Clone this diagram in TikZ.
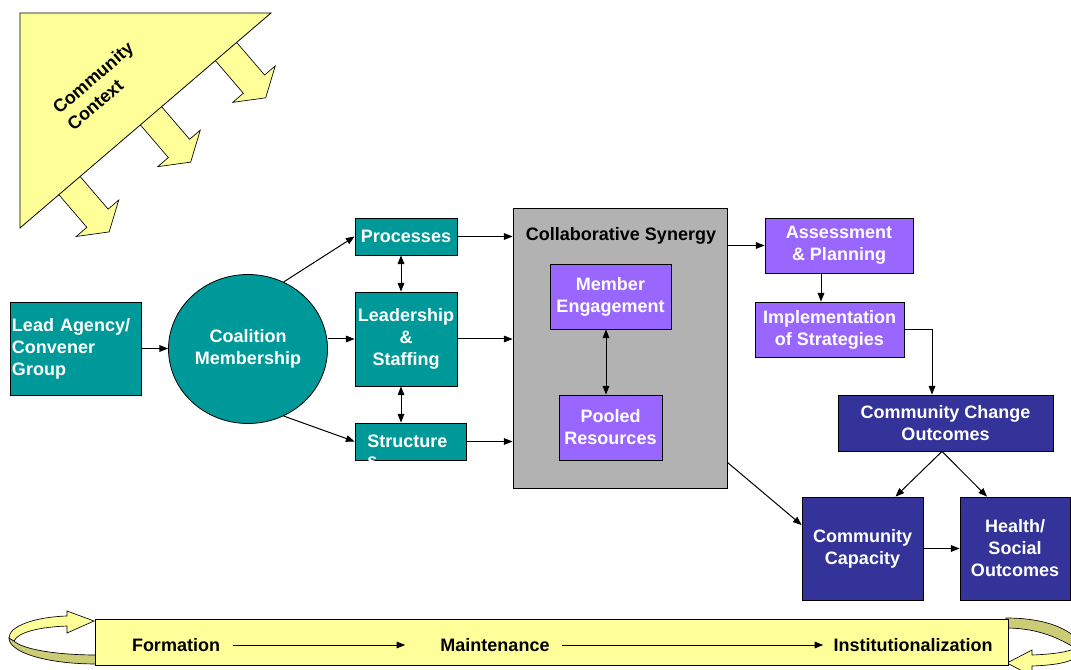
\documentclass[tikz,border=0pt]{standalone}
\usepackage{fontspec}
\setmainfont{Liberation Sans}
\usetikzlibrary{shapes.geometric,arrows.meta,calc}
\definecolor{tealc}{HTML}{009999}
\definecolor{purplec}{HTML}{9966FF}
\definecolor{navyc}{HTML}{333399}
\definecolor{grayc}{HTML}{B2B2B2}
\definecolor{ylwc}{HTML}{FFFF99}
\definecolor{olivec}{HTML}{CCCC77}
\begin{document}
\begin{tikzpicture}[x=0.75pt,y=-0.75pt,
  font=\fontsize{13.5}{16.5}\selectfont\bfseries,
  box/.style={draw=black,line width=0.6pt,inner sep=0pt,align=center,text=white},
  tealbox/.style={box,fill=tealc},
  purplebox/.style={box,fill=purplec},
  navybox/.style={box,fill=navyc},
  arr/.style={-{Triangle[length=6.5pt,width=5pt]},line width=0.75pt},
  darr/.style={{Triangle[length=6.5pt,width=5pt]}-{Triangle[length=6.5pt,width=5pt]},line width=0.75pt},
  blockarrow/.style={fill=ylwc,draw=black,line width=0.5pt,line join=miter},
  ribbonlight/.style={fill=ylwc,draw=black,line width=0.5pt},
  ribbondark/.style={fill=olivec,draw=black,line width=0.5pt},
  plain/.style={inner sep=0pt,text=black}
]
\useasboundingbox (0,0) rectangle (1071,670);

% ---- Community context triangle with block arrows ----
\foreach \bx/\by in {69.5/185.6, 151/115.8, 226/51.5}{
  \begin{scope}[shift={(\bx,\by)},rotate=-49.4]
    \path[blockarrow] (-6,14) -- (43,14) -- (43,28) -- (61,0) -- (43,-28) -- (43,-14) -- (-6,-14) -- cycle;
  \end{scope}
}
\path[fill=ylwc,draw=black,line width=0.6pt] (20,13) -- (271,13) -- (20,228) -- cycle;
\node[plain,align=left,rotate=40.6] (ctx) at (100,86) {Community\\Context};

% ---- left part ----
\node[tealbox,minimum width=98.25pt,minimum height=69.75pt,align=left,text width=95.25pt] (lead) at (75.5,348.5) {Lead Agency/\\Convener\\Group};
\node[tealbox,ellipse,minimum width=119.25pt,minimum height=111.75pt] (circ) at (248,349) {Coalition\\Membership};

\node[tealbox,minimum width=76.5pt,minimum height=27.75pt] (proc) at (406,236.5) {Processes};
\node[tealbox,minimum width=76.5pt,minimum height=70.5pt] (lstaff) at (406,339) {Leadership\\\&\\Staffing};
\node[tealbox,minimum width=83.25pt,minimum height=27.75pt] (struct) at (410.5,441.5) {};
\begin{scope}
  \clip (struct.south west) rectangle (struct.north east);
  \node[inner sep=0pt,text=white,anchor=base west] (structa) at (367,447.5) {Structure};
  \node[inner sep=0pt,text=white,anchor=base west] (structb) at (367,466) {s};
\end{scope}

% ---- synergy ----
\node[draw=black,line width=0.6pt,fill=grayc,minimum width=160.5pt,minimum height=210pt,inner sep=0pt] (syn) at (620,348) {};
\node[plain] (syntitle) at (621,236) {Collaborative Synergy};
\node[purplebox,minimum width=90.75pt,minimum height=48.75pt] (member) at (610.5,296.5) {Member\\Engagement};
\node[purplebox,minimum width=77.25pt,minimum height=48.75pt] (pooled) at (610.5,427.5) {Pooled\\Resources};

% ---- right part ----
\node[purplebox,minimum width=111pt,minimum height=41.25pt] (assess) at (839,245.5) {Assessment\\\& Planning};
\node[purplebox,minimum width=111.75pt,minimum height=41.25pt] (impl) at (829.5,329.5) {Implementation\\of Strategies};
\node[navybox,minimum width=161.25pt,minimum height=42pt] (cco) at (945.5,423) {Community Change\\Outcomes};
\node[navybox,minimum width=90.75pt,minimum height=77.25pt] (cap) at (862.5,548.5) {Community\\Capacity};
\node[navybox,minimum width=82.5pt,minimum height=77.25pt] (health) at (1015,548.5) {Health/\\Social\\Outcomes};

% ---- connectors ----
\draw[arr] (lead.east) -- (lead.east -| circ.west);
\draw[arr] (circ.62) -- (proc.west);
\draw[arr] (lstaff.west -| circ.east) -- (lstaff.west);
\draw[arr] (circ.-62) -- (struct.west);
\draw[darr] ($(proc.south)+(-5,0)$) -- ($(lstaff.north)+(-5,0)$);
\draw[darr] ($(lstaff.south)+(-5,0)$) -- ($(struct.north)+(-9.5,0)$);
\draw[arr] (proc.east) -- (proc.east -| syn.west);
\draw[arr] (lstaff.east) -- (lstaff.east -| syn.west);
\draw[arr] (struct.east) -- (struct.east -| syn.west);
\draw[darr] ($(member.south)+(-4.5,0)$) -- ($(pooled.north)+(-4.5,0)$);
\draw[arr] (assess.west -| syn.east) -- (assess.west);
\draw[arr] ($(assess.south)+(-18,0)$) -- ($(impl.north)+(-8.5,0)$);
\draw[arr] (impl.east) -| ($(cco.north)+(-13.5,0)$);
\draw[arr] ($(cco.south)+(-3.5,0)$) -- ($(cap.north)+(33,0)$);
\draw[arr] ($(cco.south)+(-3.5,0)$) -- ($(health.north)+(-28,0)$);
\draw[arr] ($(syn.south east)+(0,-26)$) -- ($(cap.west)+(0,-23.5)$);
\draw[arr] (cap.east) -- (health.west);

% ---- bottom bar with ribbons ----
\path[ribbondark] (97,664) .. controls (45,664) and (9,652) .. (9,638) -- (14,641) .. controls (22,649) and (55,655) .. (97,655) -- cycle;
\path[ribbonlight] (9,638) .. controls (9,626) and (35,617) .. (67,616) -- (67,611) -- (94,621) -- (67,633) -- (67,626) .. controls (40,627) and (18,632) .. (14,641) -- cycle;
\path[ribbondark] (1006,618) .. controls (1040,618) and (1065,626) .. (1078,640) -- (1075,648) .. controls (1062,640) and (1040,628) .. (1006,628) -- cycle;
\path[ribbonlight] (1078,640) .. controls (1085,650) and (1060,654) .. (1032,655) -- (1032,650) -- (1007,663) -- (1032,676) -- (1032,666) .. controls (1062,665) and (1085,660) .. (1075,648) -- cycle;
\node[draw=black,line width=0.75pt,fill=ylwc,minimum width=684.75pt,minimum height=34.5pt,inner sep=0pt] (bar) at (551.5,642) {};
\node[plain] (form) at (176,645) {Formation};
\node[plain] (maint) at (495,645) {Maintenance};
\node[plain] (inst) at (913,645) {Institutionalization};
\draw[arr] ($(form.east)+(13,0)$) -- ($(maint.west)+(-35,0)$);
\draw[arr] ($(maint.east)+(12,0)$) -- ($(inst.west)+(-10,0)$);
\end{tikzpicture}
\end{document}
